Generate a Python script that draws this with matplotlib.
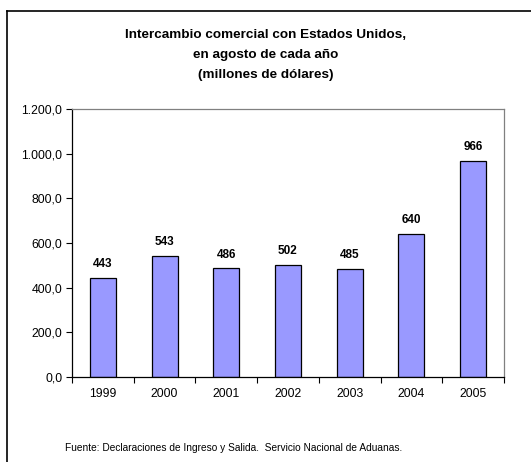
import numpy as np
import matplotlib as mpl
mpl.use("Agg")
import matplotlib.pyplot as plt

p = plt.rcParams
p["font.family"] = ["Liberation Sans", "DejaVu Sans"]

years = ["1999", "2000", "2001", "2002", "2003", "2004", "2005"]
values = [443, 543, 486, 502, 485, 640, 966]
y_ticks = [0, 200, 400, 600, 800, 1000, 1200]
y_labels = ["0,0", "200,0", "400,0", "600,0", "800,0", "1.000,0", "1.200,0"]

bar_color = "#9999ff"

fig = plt.figure(figsize=(5.31, 4.62), dpi=100)
ax = fig.add_axes([72/531, 1 - 377/462, (504 - 72)/531, (377 - 109)/462])

x = np.arange(len(years))
ax.bar(x, values, width=0.42, color=bar_color, edgecolor="black", linewidth=0.9)

for xi, v in zip(x, values):
    ax.text(xi, v + 35, str(v), ha="center", va="bottom",
            fontsize=8.5, fontweight="bold")

ax.set_xlim(-0.5, len(years) - 0.5)
ax.set_ylim(0, 1200)

ax.set_yticks(y_ticks)
ax.set_yticklabels(y_labels, fontsize=8.8)
ax.tick_params(axis="y", direction="out", length=4, width=0.8, pad=3)

# tick marks between categories, labels in the middle
ax.set_xticks(np.arange(-0.5, len(years), 1.0))
ax.set_xticklabels([])
ax.set_xticks(x, minor=True)
ax.set_xticklabels(years, minor=True, fontsize=8.8)
ax.tick_params(axis="x", which="major", direction="out", length=4, width=0.8)
ax.tick_params(axis="x", which="minor", length=0, pad=8)

for side in ["top", "right"]:
    ax.spines[side].set_color("#808080")
    ax.spines[side].set_linewidth(0.9)
for side in ["left", "bottom"]:
    ax.spines[side].set_color("black")
    ax.spines[side].set_linewidth(0.9)

fig.text(265.5/531, 1 - 35/462, "Intercambio comercial con Estados Unidos,",
         ha="center", va="center", fontsize=9.7, fontweight="bold")
fig.text(265.5/531, 1 - 55/462, "en agosto de cada año",
         ha="center", va="center", fontsize=9.7, fontweight="bold")
fig.text(265.5/531, 1 - 75/462, "(millones de dólares)",
         ha="center", va="center", fontsize=9.7, fontweight="bold")

fig.text(65/531, 1 - 448/462,
         "Fuente: Declaraciones de Ingreso y Salida.  Servicio Nacional de Aduanas.",
         ha="left", va="center", fontsize=7.3)

# outer chart frame (left and top edges visible)
fig.add_artist(plt.Line2D([7/531, 7/531], [0, 1 - 11/462],
                          transform=fig.transFigure, color="black", lw=1.2))
fig.add_artist(plt.Line2D([7/531, 1], [1 - 11/462, 1 - 11/462],
                          transform=fig.transFigure, color="black", lw=1.2))

fig.savefig("out.png", dpi=100)
